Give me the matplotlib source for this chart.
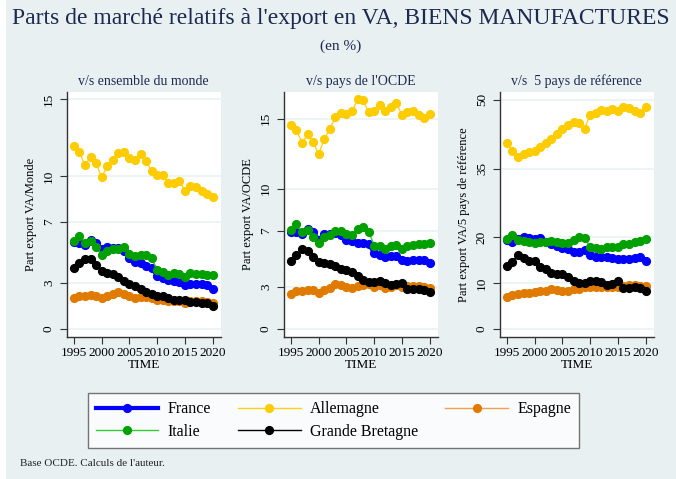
import numpy as np
import matplotlib
matplotlib.use("Agg")
import matplotlib.pyplot as plt

years = list(range(1995, 2021))

# v/s ensemble du monde
monde_france = [5.69, 5.58, 5.45, 5.84, 5.62, 5.20, 5.35, 5.30, 5.30, 5.10, 4.60, 4.38, 4.32, 4.12, 3.99,
                3.47, 3.34, 3.18, 3.14, 3.07, 2.86, 2.96, 2.96, 2.96, 2.90, 2.62]
monde_allemagne = [11.95, 11.55, 10.68, 11.25, 10.81, 9.90, 10.64, 11.03, 11.47, 11.55, 11.16, 11.03, 11.42,
                   10.99, 10.29, 10.03, 10.03, 9.55, 9.55, 9.68, 9.03, 9.37, 9.24, 9.03, 8.81, 8.63]
monde_espagne = [2.05, 2.18, 2.14, 2.22, 2.18, 2.05, 2.18, 2.27, 2.40, 2.31, 2.14, 2.05, 2.09, 2.09, 2.01,
                 1.92, 1.92, 1.79, 1.83, 1.79, 1.70, 1.79, 1.79, 1.79, 1.74, 1.66]
monde_italie = [5.76, 6.10, 5.58, 5.76, 5.36, 4.86, 5.10, 5.19, 5.23, 5.32, 4.88, 4.75, 4.84, 4.84, 4.62,
                3.84, 3.75, 3.49, 3.62, 3.58, 3.36, 3.62, 3.58, 3.58, 3.53, 3.49]
monde_gb = [4.01, 4.32, 4.58, 4.58, 4.19, 3.79, 3.66, 3.58, 3.36, 3.14, 2.96, 2.79, 2.62, 2.40, 2.27,
            2.18, 2.14, 2.01, 1.92, 1.92, 1.87, 1.74, 1.74, 1.70, 1.66, 1.48]

# v/s pays de l'OCDE
ocde_france = [6.90, 6.90, 6.76, 7.14, 6.90, 6.38, 6.76, 6.76, 6.81, 6.67, 6.38, 6.24, 6.14, 6.14, 6.05,
               5.43, 5.29, 5.10, 5.19, 5.19, 4.90, 4.86, 4.90, 4.90, 4.95, 4.67]
ocde_allemagne = [14.57, 14.19, 13.29, 13.88, 13.33, 12.48, 13.55, 14.26, 15.10, 15.43, 15.33, 15.52, 16.38,
                  16.33, 15.45, 15.52, 15.95, 15.57, 15.81, 16.14, 15.24, 15.48, 15.57, 15.24, 15.05, 15.33]
ocde_espagne = [2.52, 2.71, 2.71, 2.81, 2.76, 2.57, 2.81, 2.95, 3.19, 3.10, 3.00, 2.90, 3.05, 3.14, 3.24,
                3.00, 3.10, 2.90, 3.00, 3.10, 3.00, 3.05, 3.05, 3.05, 3.00, 2.95]
ocde_italie = [7.05, 7.52, 6.90, 7.05, 6.57, 6.10, 6.57, 6.71, 7.00, 7.00, 6.76, 6.71, 7.10, 7.24, 6.95,
               5.95, 5.90, 5.67, 5.95, 6.00, 5.71, 5.95, 6.00, 6.05, 6.05, 6.14]
ocde_gb = [4.86, 5.29, 5.71, 5.57, 5.14, 4.76, 4.67, 4.62, 4.52, 4.29, 4.19, 4.05, 3.81, 3.52, 3.38,
           3.38, 3.43, 3.29, 3.14, 3.24, 3.29, 2.86, 2.86, 2.86, 2.81, 2.62]

# v/s 5 pays de reference
ref_france = [19.39, 18.95, 19.68, 20.12, 19.83, 19.53, 19.83, 18.95, 18.51, 18.08, 17.64, 17.35, 16.76,
              16.76, 17.20, 16.18, 15.74, 15.60, 15.60, 15.45, 15.16, 15.16, 15.16, 15.45, 15.74, 14.72]
ref_allemagne = [40.67, 38.78, 37.61, 38.19, 38.63, 38.92, 39.65, 40.52, 41.55, 42.57, 43.59, 44.46, 45.19,
                 45.04, 43.73, 46.79, 47.23, 47.81, 47.67, 48.10, 47.67, 48.40, 48.25, 47.67, 47.23, 48.40]
ref_espagne = [7.00, 7.43, 7.58, 7.73, 7.87, 8.02, 8.16, 8.31, 8.60, 8.45, 8.31, 8.31, 8.60, 8.75, 9.04,
               9.18, 9.18, 9.04, 9.18, 9.18, 9.18, 9.33, 9.47, 9.47, 9.33, 9.33]
ref_italie = [19.68, 20.55, 19.39, 19.24, 18.95, 18.80, 18.95, 18.95, 19.10, 18.95, 18.66, 18.80, 19.39,
              19.97, 19.83, 17.93, 17.64, 17.49, 17.93, 17.93, 17.93, 18.51, 18.51, 18.95, 19.24, 19.68]
ref_gb = [13.70, 14.58, 16.18, 15.45, 14.87, 14.87, 13.56, 12.97, 12.24, 11.95, 11.95, 11.37, 10.35, 9.91,
          10.06, 10.35, 10.35, 10.20, 9.47, 9.77, 10.35, 8.89, 8.89, 9.04, 8.89, 8.31]

countries = ["France", "Allemagne", "Espagne", "Italie", "Grande Bretagne"]
panel_titles = ["v/s ensemble du monde", "v/s pays de l'OCDE", "v/s  5 pays de référence"]
ylabels = ["Part export VA/Monde", "Part export VA/OCDE", "Part export VA/5 pays de référence"]
yticks = [[0, 3, 7, 10, 15], [0, 3, 7, 10, 15], [0, 10, 20, 35, 50]]
ylims = [(-0.55, 15.5), (-0.6, 16.93), (-1.88, 51.8)]
xticks = [1995, 2000, 2005, 2010, 2015, 2020]

panels = [
    [monde_france, monde_allemagne, monde_espagne, monde_italie, monde_gb],
    [ocde_france, ocde_allemagne, ocde_espagne, ocde_italie, ocde_gb],
    [ref_france, ref_allemagne, ref_espagne, ref_italie, ref_gb],
]

line_colors = ["#0000ff", "#ffd21f", "#f0a050", "#33cc33", "#000000"]
marker_colors = ["#0000ff", "#ffcc00", "#e07b00", "#00a000", "#000000"]
line_widths = [3.0, 1.0, 1.0, 1.0, 1.0]

bg = "#e8f0f2"
navy = "#1c2a4f"
plt.rcParams["font.family"] = ["Liberation Serif", "DejaVu Serif"]

fig = plt.figure(figsize=(6.76, 4.79), dpi=100, facecolor=bg)
fig.patches.append(plt.Rectangle((0, 0), 6 / 676, 1, transform=fig.transFigure,
                                 facecolor="white", edgecolor="none", zorder=0))

lefts = [66.7, 283.7, 499.7]
handles = []
for i, data in enumerate(panels):
    ax = fig.add_axes([lefts[i] / 676, 1 - 337.3 / 479, 154 / 676, 245.6 / 479])
    ax.set_facecolor("white")
    for j, vals in enumerate(data):
        h, = ax.plot(years, vals, color=line_colors[j], lw=line_widths[j], marker="o",
                     markersize=5.6, markerfacecolor=marker_colors[j],
                     markeredgecolor=marker_colors[j], label=countries[j])
        if i == 0:
            handles.append(h)
    ax.set_xlim(1993.7, 2021.44)
    ax.set_ylim(*ylims[i])
    ax.set_yticks(yticks[i])
    ax.set_xticks(xticks)
    ax.grid(axis="y", color="#eaf2f3", lw=1.2)
    ax.set_axisbelow(True)
    for s in ["top", "right"]:
        ax.spines[s].set_visible(False)
    for s in ["left", "bottom"]:
        ax.spines[s].set_color("#333333")
        ax.spines[s].set_linewidth(1.0)
    ax.tick_params(axis="y", labelrotation=90, labelsize=9.5, length=5, color="#333333")
    ax.tick_params(axis="x", labelsize=9.5, length=5, color="#333333", pad=2)
    for lab in ax.get_yticklabels():
        lab.set_va("center")
    ax.set_xlabel("TIME", fontsize=9.5, labelpad=0)
    ax.set_ylabel(ylabels[i], fontsize=9, labelpad=4)
    ax.set_title(panel_titles[i], fontsize=10, color=navy, pad=5)

fig.text(341 / 676, 0.962, "Parts de marché relatifs à l'export en VA, BIENS MANUFACTURES",
         ha="center", va="center", fontsize=17, color=navy)
fig.text(341 / 676, 0.903, "(en %)", ha="center", va="center", fontsize=11, color=navy)

order = [0, 3, 1, 4, 2]
leg = fig.legend([handles[k] for k in order], [countries[k] for k in order], ncol=3,
                 loc="center", bbox_to_anchor=(333.5 / 676, 1 - 420.5 / 479),
                 fontsize=11.5, frameon=True, fancybox=False, edgecolor="#555555",
                 handlelength=3.9, columnspacing=1.7, handletextpad=0.6,
                 labelspacing=0.4, borderpad=0.5)
leg.get_frame().set_linewidth(1.0)

fig.text(20 / 676, 1 - 464 / 479, "Base OCDE. Calculs de l'auteur.", fontsize=8,
         ha="left", va="center", color="#222222")

fig.savefig("out.png", dpi=100, facecolor=bg)
